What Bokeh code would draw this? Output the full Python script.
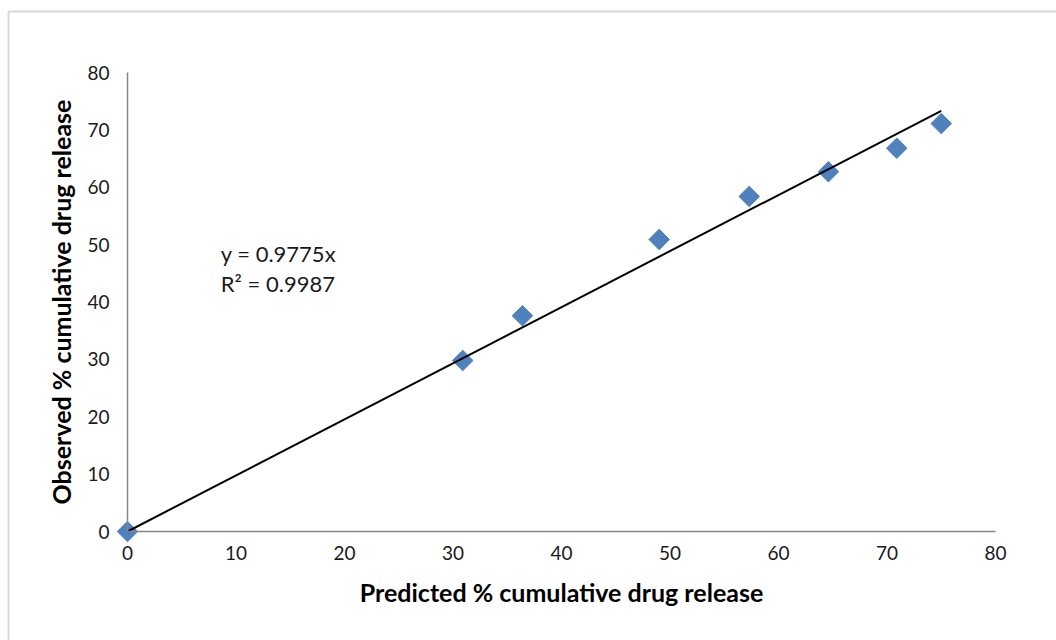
from bokeh.plotting import figure
from bokeh.models import Range1d, FixedTicker, Label, BoxAnnotation, LinearAxis
from bokeh.embed import file_html
from bokeh.resources import INLINE
import math

# Data
predicted = [0, 30.9, 36.4, 49.0, 57.3, 64.6, 70.9, 75.0]
observed = [0, 29.8, 37.6, 50.9, 58.4, 62.7, 66.8, 71.1]
slope = 0.9775
r2 = 0.9987
trend_x = [0, 75.0]
trend_y = [slope * v for v in trend_x]
ticks = [0, 10, 20, 30, 40, 50, 60, 70, 80]

FONT = "Lato"

# layout: axis span 0..80 maps to pixels 127..995 (x) and 531..72 (y)
W, H = 1056, 640
X0, X1, Y0, Y1 = 127, 995, 531, 72
xs = (X1 - X0) / 80.0
ys = (Y0 - Y1) / 80.0
x_range = Range1d(-X0 / xs, 80 + (W - X1) / xs)
y_range = Range1d(-(H - Y0) / ys, 80 + Y1 / ys)

p = figure(width=W, height=H, output_backend="svg", toolbar_location=None,
           x_range=x_range, y_range=y_range,
           x_axis_location=None, y_axis_location=None,
           min_border=0)
p.outline_line_color = None
p.grid.visible = False
p.background_fill_color = "white"
p.border_fill_color = "white"

xaxis = LinearAxis(fixed_location=0, bounds=(0, 80))
yaxis = LinearAxis(fixed_location=0, bounds=(0, 80))
for ax in (xaxis, yaxis):
    ax.ticker = FixedTicker(ticks=ticks)
    ax.axis_line_color = "#868686"
    ax.axis_line_width = 1.5
    ax.major_tick_line_color = None
    ax.minor_tick_line_color = None
    ax.major_tick_out = 0
    ax.major_tick_in = 0
    ax.minor_tick_out = 0
    ax.minor_tick_in = 0
    ax.major_label_text_font = FONT
    ax.major_label_text_font_size = "19px"
    ax.major_label_text_color = "#1a1a1a"
    ax.axis_label_text_font = FONT
    ax.axis_label_text_font_style = "bold"
    ax.axis_label_text_font_size = "25px"
    ax.axis_label_text_color = "#000000"

xaxis.axis_label = "Predicted % cumulative drug release"
yaxis.axis_label = "Observed % cumulative drug release"
xaxis.major_label_standoff = 14
yaxis.major_label_standoff = 18
xaxis.axis_label_standoff = 14
yaxis.axis_label_standoff = 8
p.add_layout(xaxis, "below")
p.add_layout(yaxis, "left")

# outer chart border (data units derived from the layout constants)
p.add_layout(BoxAnnotation(left=(8 - X0) / xs, right=(W + 10 - X0) / xs,
                           top=(Y0 - 11) / ys, bottom=(Y0 - H - 10) / ys,
                           fill_color=None, line_color="#7f7f7f", line_width=2))

p.scatter(predicted, observed, marker="square", angle=math.pi / 4, size=14.5,
          fill_color="#4F81BD", line_color="#4F81BD")
p.line(trend_x, trend_y, line_color="black", line_width=2)

p.add_layout(Label(x=8.6, y=48.4, text=f"y = {slope}x", text_font=FONT,
                   text_font_size="22px", text_baseline="middle", text_color="#1a1a1a"))
p.add_layout(Label(x=8.6, y=43.2, text=f"R\u00b2 = {r2}", text_font=FONT,
                   text_font_size="22px", text_baseline="middle", text_color="#1a1a1a"))

open("out.html", "w").write(file_html(p, INLINE))
